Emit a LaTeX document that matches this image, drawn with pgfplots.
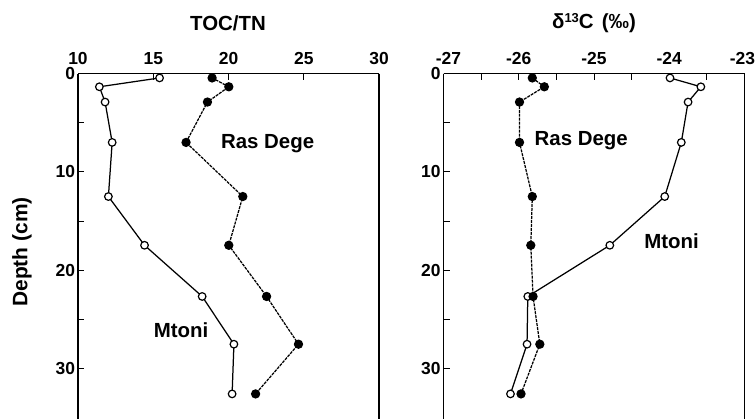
\documentclass[border=0pt]{standalone}
\usepackage{pgfplots}
\pgfplotsset{compat=1.18}
\usepackage{fontspec}
\setmainfont{Liberation Sans}

% depth profiles of sediment cores: Mtoni (open) and Ras Dege (filled)
\pgfplotstableread{
depth  mtoni  rasdege
0.45   15.42  18.91
1.35   11.42  20.02
2.9    11.80  18.60
7.0    12.27  17.18
12.5   12.02  20.95
17.45  14.42  20.02
22.65  18.25  22.53
27.5   20.36  24.65
32.55  20.24  21.80
}\ratio

\pgfplotstableread{
depth  mtoni   rasdege
0.45   -23.99  -25.82
1.35   -23.58  -25.66
2.9    -23.75  -25.99
7.0    -23.84  -25.99
12.5   -24.06  -25.82
17.45  -24.79  -25.84
22.65  -25.88  -25.81
27.5   -25.89  -25.72
32.55  -26.11  -25.97
}\carbon

\pgfplotsset{
  core/.style={
    scale only axis, width=301bp, height=345.5bp,
    y dir=reverse, ymin=0, ymax=35.1,
    axis x line*=top, axis y line*=box,
    ytick={0,10,20,30}, minor ytick={5,15,25},
    ytick pos=left,
    tick align=inside,
    major tick length=6bp, minor tick length=6bp,
    axis line style={line width=1.3pt},
    every tick/.style={line width=1pt, black},
    every minor tick/.style={line width=1pt, black},
    tick label style={font=\fontsize{17.5}{19}\selectfont\bfseries},
    xticklabel style={yshift=5.5bp},
    yticklabel style={xshift=0.5bp},
    /pgf/number format/assume math mode=true,
    clip=false,
  },
  open/.style={black, line width=1.25pt, mark=*, mark size=3.8bp,
    mark options={solid, fill=white, line width=1.2pt}},
  filled/.style={black, line width=1.25pt, dash pattern=on 3pt off 1pt,
    mark=*, mark size=4bp, mark options={solid, fill=black}},
}

\begin{document}
\begin{tikzpicture}[x=1bp, y=1bp]
\useasboundingbox (0,0) rectangle (755,419);

\begin{axis}[core, at={(78bp,0bp)}, anchor=south west,
  xmin=10, xmax=30, xtick={10,15,20,25,30}]
  \addplot[open] table[x=mtoni, y=depth] {\ratio};
  \addplot[filled] table[x=rasdege, y=depth] {\ratio};
  \node[font=\fontsize{20.5}{22}\selectfont\bfseries] at (axis cs:22.6,7.15) {Ras Dege};
  \node[font=\fontsize{20.5}{22}\selectfont\bfseries] at (axis cs:16.85,26.1) {Mtoni};
\end{axis}

\begin{axis}[core, at={(443.5bp,0bp)}, anchor=south west,
  xmin=-27, xmax=-23, xtick={-27,-26,-25,-24,-23},
  xticklabels={\hspace*{10bp}-27,-26,-25,-24,-23\hspace*{4bp}},
  minor xtick={-26.5,-25.5,-24.5,-23.5}]
  \addplot[open] table[x=mtoni, y=depth] {\carbon};
  \addplot[filled] table[x=rasdege, y=depth] {\carbon};
  \node[font=\fontsize{20.5}{22}\selectfont\bfseries] at (axis cs:-25.17,6.8) {Ras Dege};
  \node[font=\fontsize{20.5}{22}\selectfont\bfseries] at (axis cs:-23.97,17.0) {Mtoni};
\end{axis}

\node[font=\fontsize{20.5}{22}\selectfont\bfseries] at (228,396) {TOC/TN};
\node[font=\fontsize{20.5}{22}\selectfont\bfseries] at (594,396)
  {δ\raisebox{0.55ex}{\fontsize{13}{14}\selectfont 13}C\hspace{0.4em}(‰)};
\node[font=\fontsize{21}{22}\selectfont\bfseries, rotate=90] at (22,167) {Depth (cm)};
\end{tikzpicture}
\end{document}
